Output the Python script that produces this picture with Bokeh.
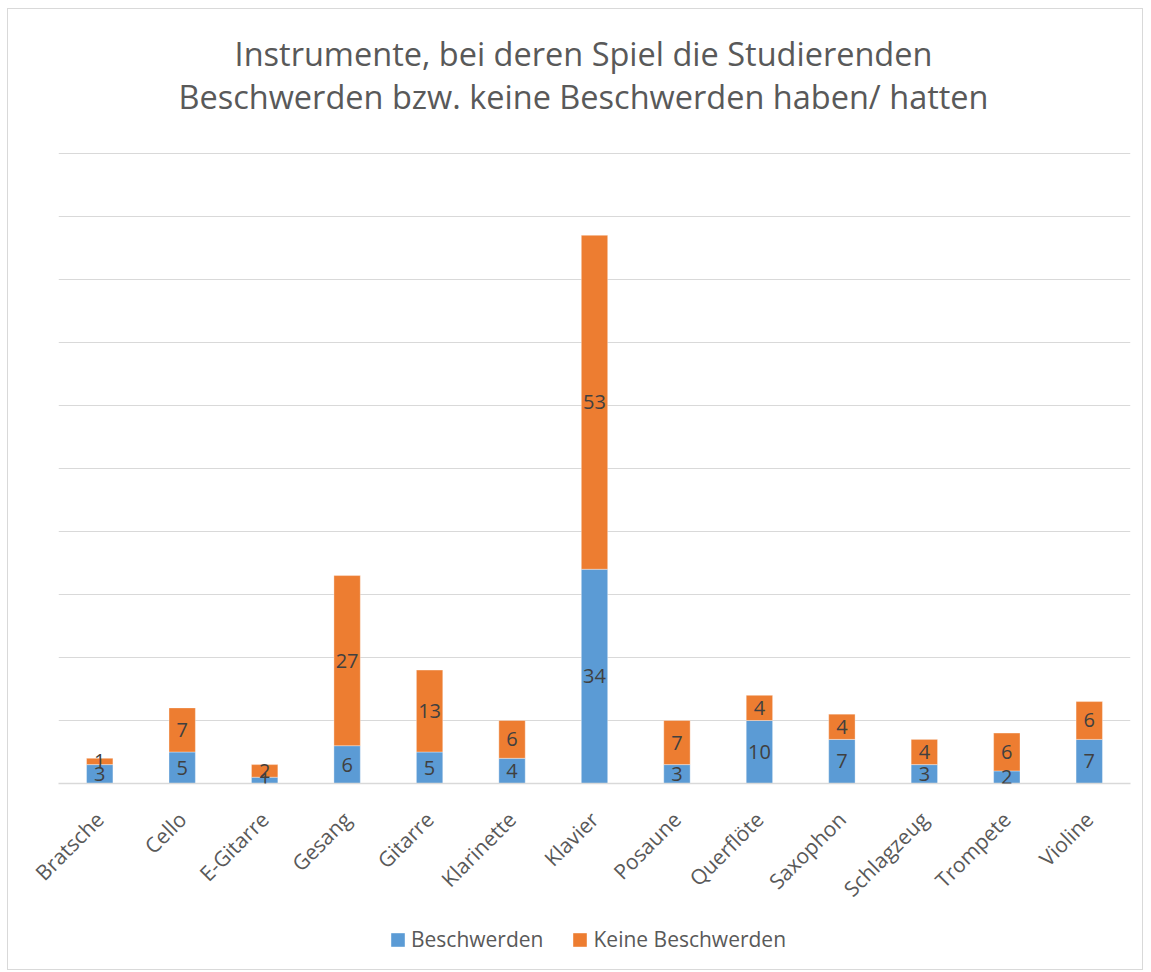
import math
from bokeh.plotting import figure
from bokeh.layouts import column
from bokeh.models import ColumnDataSource, FactorRange, Range1d, LabelSet, Label, Legend, LegendItem
from bokeh.core.properties import value
from bokeh.embed import file_html
from bokeh.resources import INLINE

instruments = ["Bratsche", "Cello", "E-Gitarre", "Gesang", "Gitarre", "Klarinette", "Klavier",
               "Posaune", "Querflöte", "Saxophon", "Schlagzeug", "Trompete", "Violine"]
beschwerden = [3, 5, 1, 6, 5, 4, 34, 3, 10, 7, 3, 2, 7]
keine_beschwerden = [1, 7, 2, 27, 13, 6, 53, 7, 4, 4, 4, 6, 6]
series_names = ["Beschwerden", "Keine Beschwerden"]
title_lines = ["Instrumente, bei deren Spiel die Studierenden",
               "Beschwerden bzw. keine Beschwerden haben/ hatten"]

BLUE = "#5B9BD5"
ORANGE = "#ED7D31"
FONT = "Open Sans"
W = 1134

# ---- title strip
p0 = figure(width=W, height=142, output_backend="svg", toolbar_location=None,
            x_axis_type=None, y_axis_type=None, min_border=0,
            x_range=Range1d(0, 1), y_range=Range1d(0, 1))
p0.outline_line_color = None
p0.grid.visible = False
for line, yy in zip(title_lines, [98, 55]):
    p0.add_layout(Label(x=525, y=yy, x_units="screen", y_units="screen", text=line,
                        text_align="center", text_baseline="alphabetic", text_font=FONT,
                        text_font_size="32.5px", text_color="#595959"))

# ---- main chart
src = ColumnDataSource(dict(
    inst=instruments,
    b=beschwerden,
    k=keine_beschwerden,
    b_mid=[v / 2 for v in beschwerden],
    k_mid=[b + k / 2 for b, k in zip(beschwerden, keine_beschwerden)],
    b_txt=[str(v) for v in beschwerden],
    k_txt=[str(v) for v in keine_beschwerden],
))

p = figure(x_range=FactorRange(factors=instruments, range_padding=0),
           y_range=Range1d(0, 100.3),
           width=W, height=767, output_backend="svg", toolbar_location=None,
           min_border_left=50, min_border_right=12, min_border_top=0, min_border_bottom=135)
p.outline_line_color = None
p.background_fill_color = "white"
p.border_fill_color = "white"

rs = p.vbar_stack(["b", "k"], x="inst", width=0.32, color=[BLUE, ORANGE], source=src,
                  line_color="white", line_alpha=0.35, line_width=1)

p.ygrid.grid_line_color = "#D9D9D9"
p.ygrid.grid_line_width = 1
p.ygrid.ticker = list(range(0, 101, 10))
p.xgrid.grid_line_color = None
p.yaxis.visible = False

ax = p.xaxis[0]
ax.axis_line_color = "#D9D9D9"
ax.axis_line_width = 1.5
ax.major_tick_line_color = None
ax.minor_tick_line_color = None
ax.major_label_orientation = math.pi / 4
ax.major_label_text_font = FONT
ax.major_label_text_font_size = "21px"
ax.major_label_text_color = "#595959"
ax.major_label_standoff = 26

for y, t in [("b_mid", "b_txt"), ("k_mid", "k_txt")]:
    p.add_layout(LabelSet(x="inst", y=y, text=t, source=src, text_align="center",
                          text_baseline="middle", text_font=value(FONT),
                          text_font_size="20px", text_color="#404040"))

# ---- legend strip
p2 = figure(width=W, height=51, output_backend="svg", toolbar_location=None,
            x_axis_type=None, y_axis_type=None, min_border=0,
            x_range=Range1d(0, 1), y_range=Range1d(0, 1))
p2.outline_line_color = None
p2.grid.visible = False
lb = p2.vbar(x=[0.5], bottom=[0.5], top=[0.5], width=0, fill_color=BLUE, line_color=None)
lo = p2.vbar(x=[0.5], bottom=[0.5], top=[0.5], width=0, fill_color=ORANGE, line_color=None)
legend = Legend(items=[LegendItem(label=series_names[0], renderers=[lb]),
                       LegendItem(label=series_names[1], renderers=[lo])],
                orientation="horizontal", location=(331, 16),
                label_text_font=FONT, label_text_font_size="21px", label_text_color="#595959",
                glyph_width=17, glyph_height=17, spacing=28, label_standoff=5,
                padding=0, margin=0, border_line_color=None, background_fill_alpha=0)
p2.add_layout(legend, "center")

layout = column(p0, p, p2, spacing=0)
layout.styles = {"border": "1px solid #d9d9d9", "margin": "8px 0 0 7px"}

open("out.html", "w").write(file_html(layout, INLINE))
